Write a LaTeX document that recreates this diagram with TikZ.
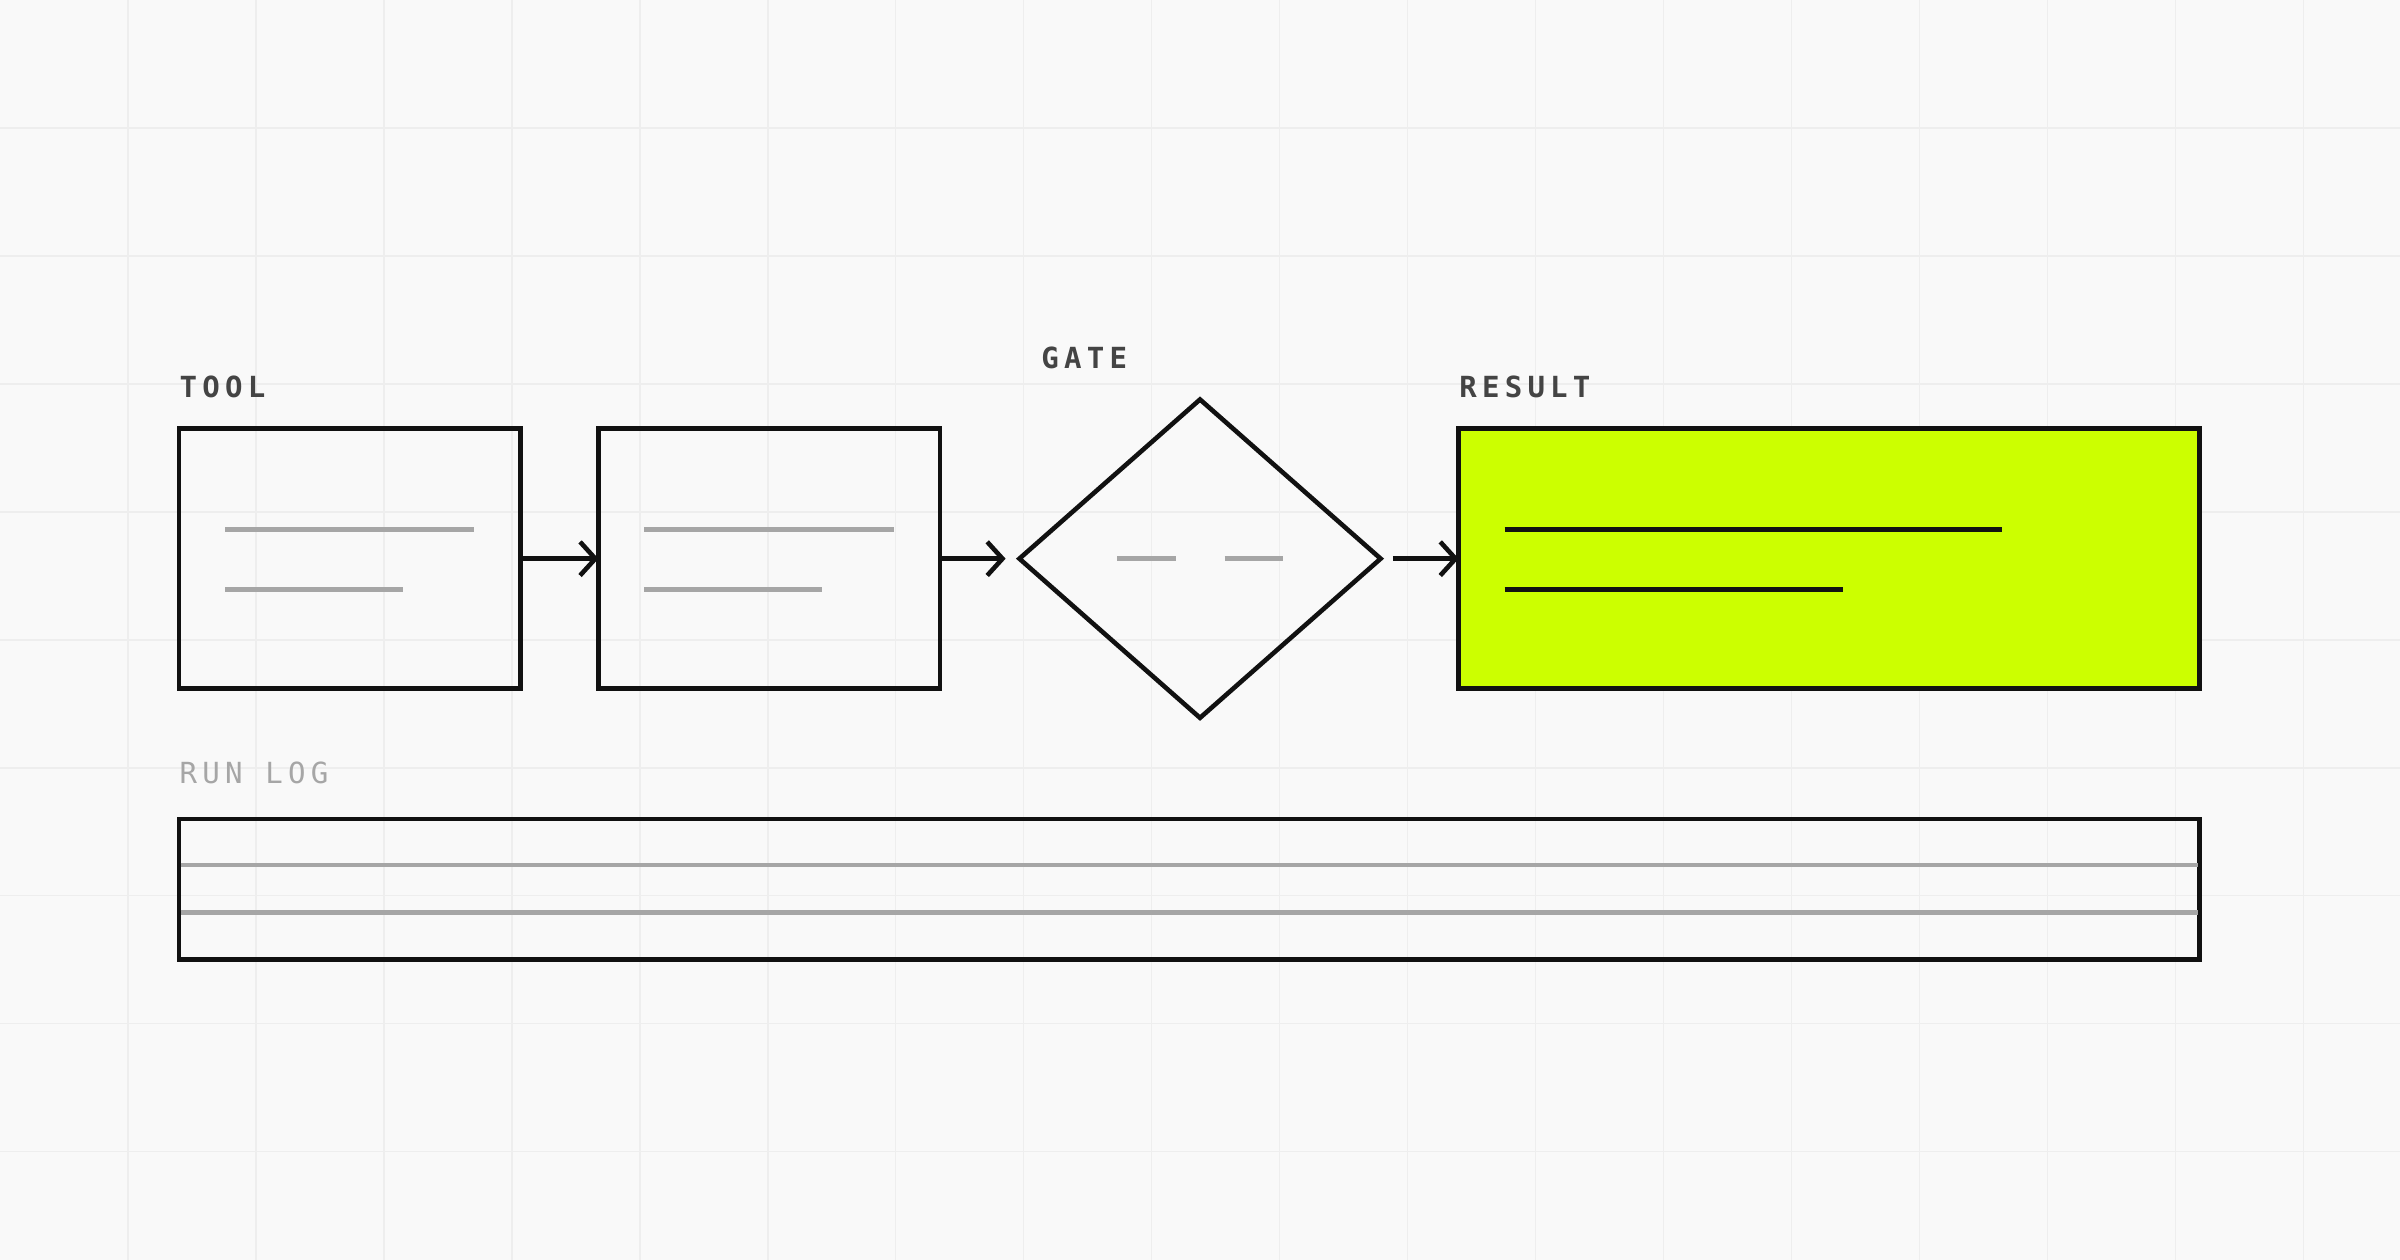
\documentclass[tikz,border=0pt]{standalone}
\usepackage{fontspec}
\setmonofont{DejaVu Sans Mono}
\usetikzlibrary{arrows.meta}
\definecolor{bg}{HTML}{F9F9F9}
\definecolor{gridc}{HTML}{EEEEEE}
\definecolor{lime}{HTML}{CCFF00}
\definecolor{ink}{HTML}{111111}
\definecolor{gl}{HTML}{A6A6A6}
\definecolor{lab}{HTML}{444444}
\begin{document}
\begin{tikzpicture}[x=0.5pt,y=-0.5pt,
 box/.style={draw=ink,line width=1.5pt},
 gline/.style={draw=gl,line width=1.5pt},
 bline/.style={draw=ink,line width=1.5pt},
 arr/.style={draw=ink,line width=1.5pt,-{Straight Barb[length=5pt,width=11pt,line width=1.5pt]}},
 lbl/.style={anchor=base west,inner sep=0,font=\ttfamily\bfseries\fontsize{9.5}{10}\selectfont\addfontfeature{LetterSpace=18},text=lab}]
\fill[bg] (0,0) rectangle (1568,823);
\useasboundingbox (0,0) rectangle (1568,823);
\foreach \i in {1,...,18} \draw[gridc,line width=0.5pt] (\i*83.6,0) -- (\i*83.6,823);
\foreach \i in {1,...,9} \draw[gridc,line width=0.5pt] (0,\i*83.6) -- (1568,\i*83.6);
\node[lbl] (t1) at (117,260) {TOOL};
\node[lbl] (t2) at (680,241) {GATE};
\node[lbl] (t3) at (953,260) {RESULT};
\node[lbl,text=gl,font=\ttfamily\fontsize{9.5}{10}\selectfont\addfontfeature{LetterSpace=18}] (t4) at (117,512) {RUN LOG};
\draw[box] (117,280) rectangle (340,450);
\coordinate (b1r) at (340,365);
\draw[gline] (147,346) -- (310,346) (147,385) -- (263,385);
\draw[box] (391,280) rectangle (614,450);
\coordinate (b2l) at (391,365); \coordinate (b2r) at (614,365);
\draw[gline] (421,346) -- (584,346) (421,385) -- (537,385);
\draw[box] (666,365) -- (784,261) -- (902,365) -- (784,469) -- cycle;
\coordinate (dl) at (657,365); \coordinate (dr) at (910,365);
\draw[gline] (730,365) -- (768,365) (800,365) -- (838,365);
\draw[box,fill=lime] (953,280) rectangle (1437,450);
\coordinate (rl) at (953,365);
\draw[bline] (983,346) -- (1308,346) (983,385) -- (1204,385);
\draw[box] (117,535) rectangle (1437,627);
\draw[gline] (118,565) -- (1436,565) (118,596) -- (1436,596);
\draw[arr] (b1r) -- (b2l);
\draw[arr] (b2r) -- (dl);
\draw[arr] (dr) -- (rl);
\end{tikzpicture}
\end{document}
